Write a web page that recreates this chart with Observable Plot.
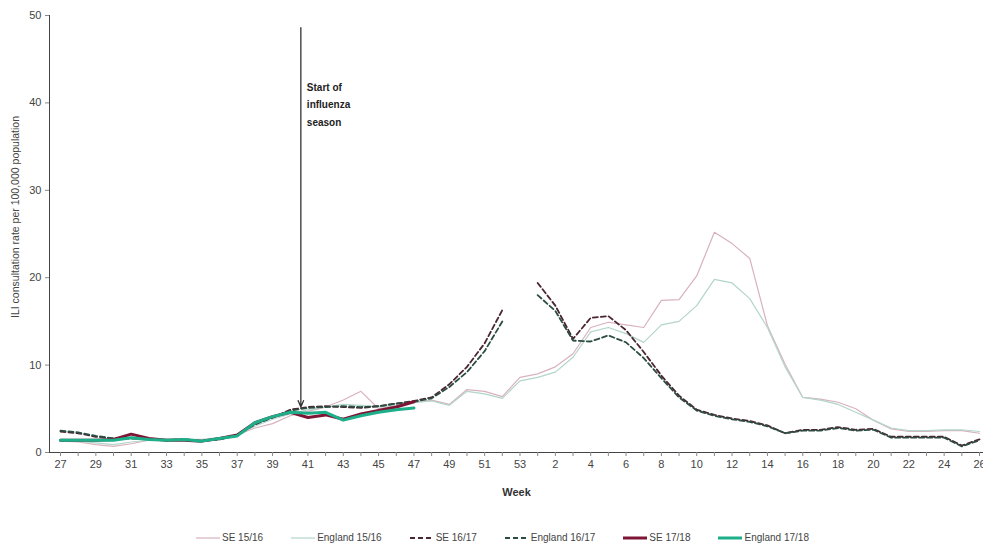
<!DOCTYPE html>
<html><head><meta charset="utf-8">
<script src="https://cdn.jsdelivr.net/npm/d3@7"></script>
<script src="https://cdn.jsdelivr.net/npm/@observablehq/plot@0.6"></script>
<style>
body{margin:0;background:#fff;font-family:"Liberation Sans Narrow","Arial Narrow","Liberation Sans",Arial,sans-serif;}
#chart svg{display:block;}
#legend{display:flex;justify-content:center;align-items:center;gap:28px;height:23px;font-size:10px;color:#444;padding-left:22px;}
#legend .item{display:flex;align-items:center;gap:2px;}
</style></head><body>
<div id="chart"></div>
<div id="legend"></div>
<script>
const weekLabels = ["27","28","29","30","31","32","33","34","35","36","37","38","39","40","41","42","43","44","45","46","47","48","49","50","51","52","53","1","2","3","4","5","6","7","8","9","10","11","12","13","14","15","16","17","18","19","20","21","22","23","24","25","26"];
const yTicks = [0,10,20,30,40,50];

const se1516 = [1.3,1.2,0.9,0.7,1.0,1.4,1.5,1.6,1.4,1.6,2.0,2.8,3.3,4.2,4.7,5.2,6.0,7.0,5.0,5.4,5.8,6.0,5.5,7.2,7.0,6.4,8.6,9.0,9.8,11.3,14.3,14.9,14.6,14.3,17.4,17.5,20.2,25.2,23.9,22.2,14.5,10.1,6.3,6.1,5.75,5.0,3.7,2.7,2.4,2.4,2.5,2.5,2.2];
const eng1516 = [1.4,1.3,1.1,0.9,1.2,1.4,1.5,1.5,1.5,1.7,2.0,3.0,3.8,4.4,4.9,5.2,5.5,5.4,5.2,5.4,5.7,5.9,5.4,7.0,6.7,6.2,8.2,8.6,9.2,10.9,13.8,14.3,13.6,12.6,14.6,15.0,16.8,19.8,19.4,17.6,14.3,9.8,6.3,6.0,5.5,4.6,3.7,2.8,2.5,2.5,2.6,2.6,2.4];
const se1617 = [2.4,2.2,1.8,1.6,1.7,1.5,1.4,1.5,1.3,1.5,2.0,3.3,4.0,4.9,5.2,5.3,5.2,5.1,5.3,5.6,5.9,6.3,7.8,9.8,12.5,16.3,null,19.4,16.8,13.0,15.4,15.6,14.0,11.5,8.8,6.5,4.9,4.3,3.9,3.6,3.1,2.2,2.6,2.6,2.9,2.6,2.7,1.8,1.8,1.8,1.8,0.8,1.5];
const eng1617 = [2.5,2.3,1.9,1.6,1.6,1.5,1.4,1.5,1.3,1.5,2.0,3.2,4.0,4.8,5.1,5.2,5.3,5.2,5.3,5.6,5.8,6.2,7.5,9.2,11.6,15.0,null,18.0,16.2,12.8,12.7,13.4,12.6,10.8,8.5,6.3,4.8,4.2,3.8,3.5,3.0,2.2,2.5,2.5,2.8,2.5,2.6,1.7,1.7,1.7,1.7,0.7,1.4];
const se1718 = [1.4,1.4,1.4,1.5,2.1,1.6,1.4,1.4,1.3,1.6,2.0,3.4,4.1,4.6,4.0,4.3,3.8,4.4,4.8,5.2,5.8];
const eng1718 = [1.4,1.4,1.4,1.4,1.7,1.5,1.4,1.5,1.3,1.6,1.9,3.4,4.1,4.6,4.5,4.6,3.7,4.2,4.6,4.9,5.1];

const seriesNames = ["SE 15/16","England 15/16","SE 16/17","England 16/17","SE 17/18","England 17/18"];
const seriesValues = [se1516, eng1516, se1617, eng1617, se1718, eng1718];
const seriesColors = ["#d8b2bc","#b2d5cc","#4a2630","#2c4d43","#7e1535","#1daf8a"];
const seriesWidths = [1.2,1.2,1.8,1.8,3,3];
const seriesDash = [null,null,"5,3","5,3",null,null];

const seasonStart = [{pos: 13.6, top: 48.6, tip: 5.2, labelY: 42.8, text: "Start of\ninfluenza\nseason"}];
const xTitle = "Week";
const yTitle = "ILI consultation rate per 100,000 population";

const rows = seriesNames.map((name, k) => seriesValues[k].map((v, i) => ({series: name, i, value: v})));

const fontFam = '"Liberation Sans Narrow","Arial Narrow","Liberation Sans",Arial,sans-serif';

const chart = Plot.plot({
  width: 983, height: 526,
  marginLeft: 49, marginRight: 0, marginTop: 15, marginBottom: 74,
  style: {fontFamily: fontFam, fontSize: "11px", color: "#444", background: "#fff", overflow: "visible"},
  x: {domain: [0, 52], range: [60, 979], ticks: weekLabels.map((_, i) => i), tickFormat: i => (i % 2 === 0 ? weekLabels[i] : ""), tickSize: 4, tickPadding: 4, line: true, label: null},
  y: {domain: [0, 50], ticks: yTicks, tickSize: 4, tickPadding: 4, line: true, label: null},
  marks: [
    ...rows.map((r, k) => Plot.line(r, {x: "i", y: "value", stroke: seriesColors[k], strokeWidth: seriesWidths[k], strokeDasharray: seriesDash[k], strokeLinejoin: "round"})),
    Plot.arrow(seasonStart, {x1: "pos", x2: "pos", y1: "top", y2: "tip", stroke: "#333", strokeWidth: 1.3, headLength: 8, headAngle: 45}),
    Plot.text(seasonStart, {x: "pos", y: "labelY", text: "text", textAnchor: "start", lineAnchor: "top", dx: 6, fontWeight: "bold", fontSize: 10, lineHeight: 1.75, fill: "#222"}),
    Plot.text([xTitle], {frameAnchor: "bottom", text: d => d, dy: 43, fontWeight: "bold", fontSize: 11, fill: "#333"}),
    Plot.text([yTitle], {frameAnchor: "left", text: d => d, rotate: -90, textAnchor: "middle", dx: -34, dy: -17, fontSize: 10.5, fill: "#444"})
  ]
});
chart.querySelectorAll("[aria-label='x-axis tick'] path, [aria-label='y-axis tick'] path").forEach(p => p.setAttribute("stroke", "#888"));
document.getElementById("chart").appendChild(chart);

const legend = document.getElementById("legend");
seriesNames.forEach((name, k) => {
  const item = document.createElement("div");
  item.className = "item";
  item.innerHTML = `<svg width="24" height="10"><line x1="0" x2="24" y1="5" y2="5" stroke="${seriesColors[k]}" stroke-width="${seriesWidths[k]}" ${seriesDash[k] ? `stroke-dasharray="${seriesDash[k]}"` : ""}/></svg><span>${name}</span>`;
  legend.appendChild(item);
});
</script>
</body></html>
